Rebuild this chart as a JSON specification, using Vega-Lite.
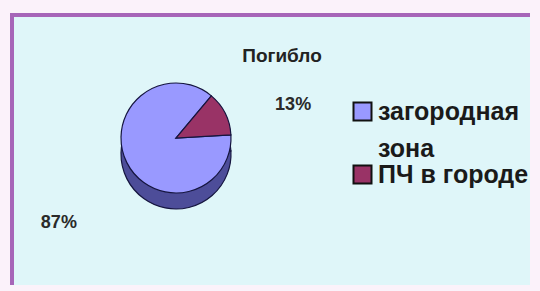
{
  "$schema": "https://vega.github.io/schema/vega-lite/v6.json",
  "autosize": "none",
  "width": 518,
  "height": 270,
  "padding": {"left": 12, "top": 15, "right": 10, "bottom": 6},
  "background": "#fbf2fa",
  "view": {
    "fill": "#dff6f9",
    "stroke": "#a665b8",
    "strokeWidth": 4,
    "strokeDash": [518, 788, 270]
  },
  "title": {
    "text": "Погибло",
    "anchor": "middle",
    "frame": "group",
    "baseline": "alphabetic",
    "offset": -66,
    "dx": 11,
    "font": "Liberation Sans",
    "fontSize": 19,
    "fontWeight": "bold",
    "color": "#222222"
  },
  "data": {
    "values": [
      {"zone": "загородная зона", "share": 0.87},
      {"zone": "ПЧ в городе", "share": 0.13}
    ]
  },
  "encoding": {
    "theta": {
      "field": "share",
      "type": "quantitative",
      "stack": true,
      "scale": {"range": [0.698, 6.981]}
    },
    "order": {"field": "zone", "sort": "ascending"}
  },
  "layer": [
    {
      "mark": {
        "type": "arc",
        "outerRadius": 55,
        "xOffset": -95,
        "yOffset": 4,
        "fill": "#4d4d99",
        "stroke": "#15153f",
        "strokeWidth": 1.2
      }
    },
    {
      "mark": {
        "type": "arc",
        "outerRadius": 55,
        "xOffset": -95,
        "yOffset": -12,
        "stroke": "#15153f",
        "strokeWidth": 1.2
      },
      "encoding": {
        "color": {
          "field": "zone",
          "type": "nominal",
          "scale": {
            "domain": ["загородная зона", "ПЧ в городе"],
            "range": ["#9999ff", "#993366"]
          },
          "legend": {
            "orient": "none",
            "legendX": 338,
            "legendY": 84,
            "title": null,
            "padding": 0,
            "symbolType": "square",
            "symbolSize": 324,
            "symbolStrokeColor": "#111111",
            "symbolStrokeWidth": 2,
            "symbolOpacity": 1,
            "labelFont": "Liberation Sans",
            "labelFontSize": 25,
            "labelFontWeight": "bold",
            "labelColor": "#1a1a1a",
            "labelLimit": 400,
            "labelOffset": 3,
            "rowPadding": -14,
            "labelExpr": "datum.label == 'загородная зона' ? ['загородная', 'зона'] : datum.label",
            "encode": {"labels": {"update": {"lineHeight": {"value": 37}}}}
          }
        }
      }
    },
    {
      "mark": {
        "type": "text",
        "radius": 131,
        "xOffset": -95,
        "yOffset": 14,
        "font": "Liberation Sans",
        "fontSize": 18,
        "fontWeight": "bold",
        "fill": "#2a2a2a"
      },
      "encoding": {
        "text": {"field": "share", "type": "quantitative", "format": ".0%"}
      }
    }
  ]
}
